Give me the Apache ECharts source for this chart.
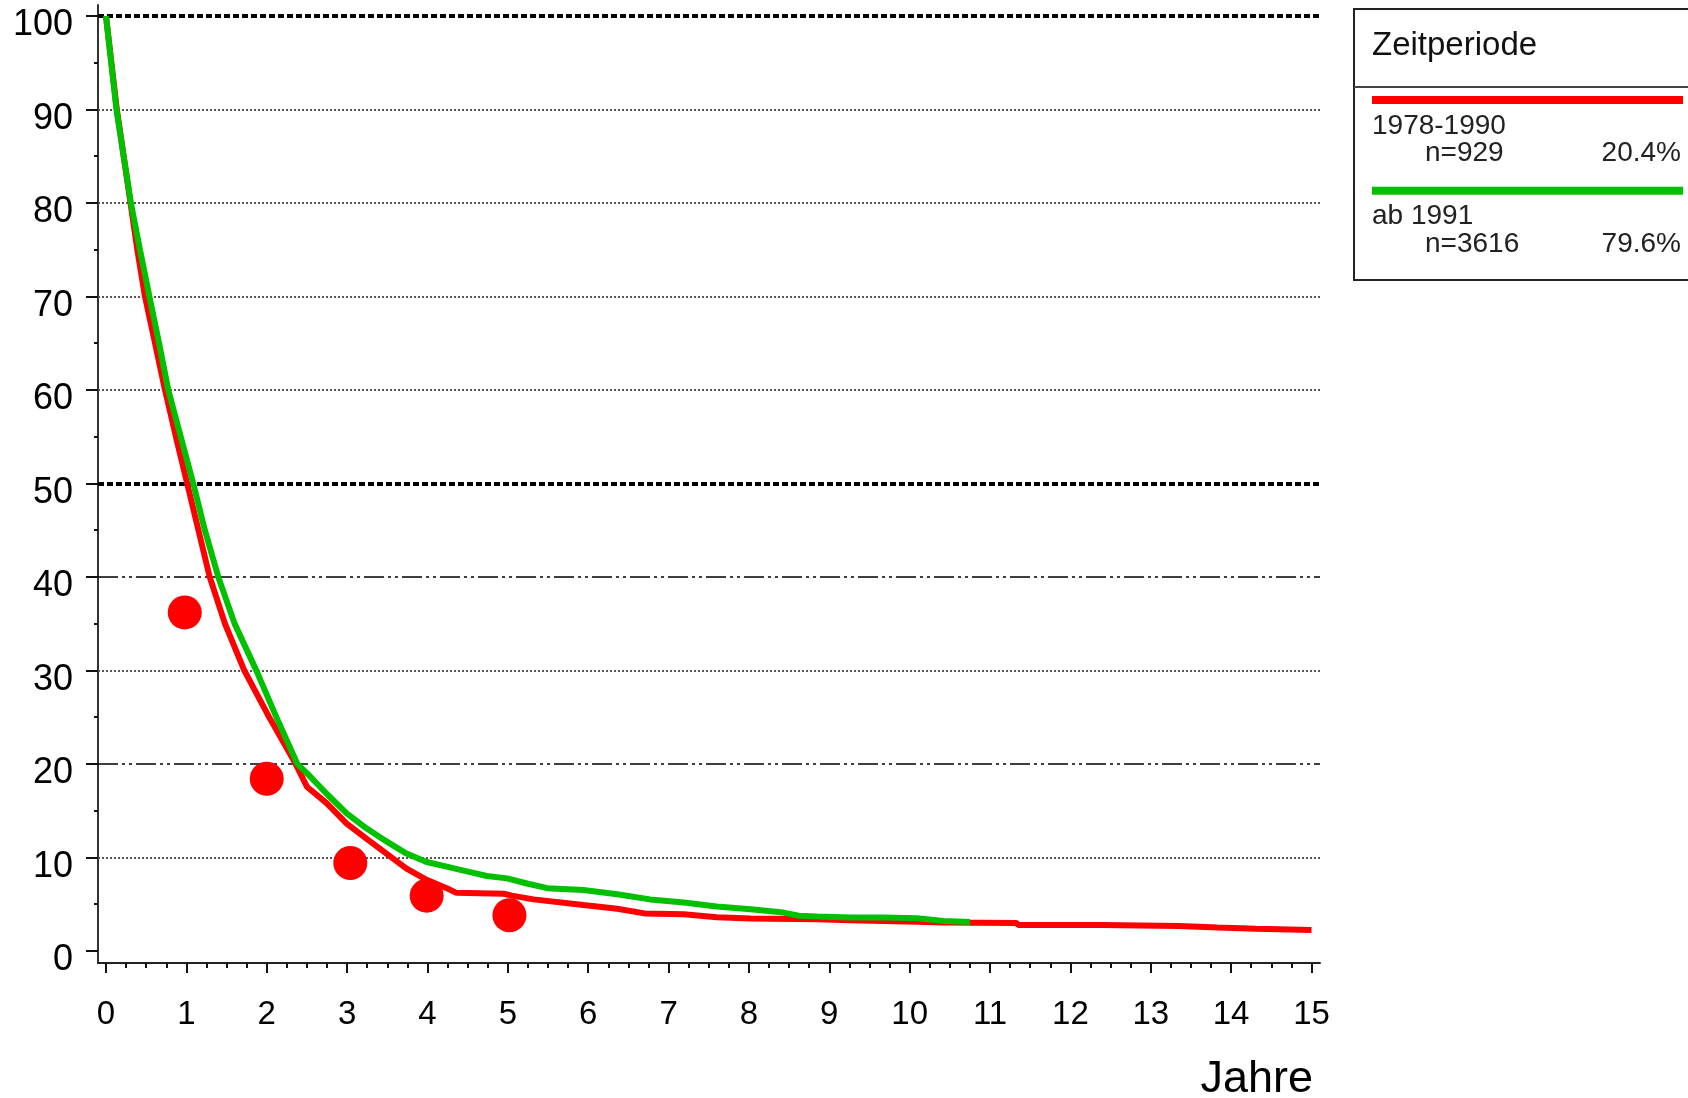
<!DOCTYPE html>
<html><head><meta charset="utf-8">
<script src="https://cdn.jsdelivr.net/npm/echarts@6/dist/echarts.min.js"></script>
<style>html,body{margin:0;padding:0;background:#fff}#c{width:1688px;height:1098px}</style>
</head><body><div id="c"></div>
<script>
// ---- data ----
const xTicks = [0,1,2,3,4,5,6,7,8,9,10,11,12,13,14,15];
const yTicks = [0,10,20,30,40,50,60,70,80,90,100];
const yMinorTicks = [5,15,25,35,45,55,65,75,85,95];
const gridThickDotted = [50,100];
const gridDashDot = [20,40];
const gridFineDotted = [10,30,60,70,80,90];

// 1978-1990 (red)
const redCurve = [[0,100],[0.135,90],[0.305,80],[0.39,75],[0.485,70],[0.61,65],[0.734,60],[0.87,55],[1.01,50],[1.15,45],[1.29,40],[1.48,35],[1.72,30],[2.03,25],[2.36,20],[2.5,17.55],[2.745,15.8],[2.995,13.6],[3.24,12.0],[3.49,10.4],[3.74,8.8],[3.99,7.6],[4.24,6.7],[4.36,6.2],[4.95,6.1],[5.05,5.9],[5.32,5.5],[5.94,4.9],[6.36,4.5],[6.7,4.0],[7.19,3.9],[7.6,3.6],[8.02,3.45],[8.85,3.37],[9.26,3.27],[9.67,3.2],[10.09,3.1],[10.42,3.03],[11.33,2.98],[11.35,2.76],[12.4,2.76],[12.42,2.66],[13.35,2.66],[13.37,2.48],[13.83,2.48],[13.85,2.37],[14.31,2.37],[14.33,2.23],[15.0,2.23]];
// ab 1991 (green)
const greenCurve = [[0,100],[0.13,90],[0.31,80],[0.423,75],[0.54,70],[0.66,65],[0.775,60],[0.93,55],[1.086,50],[1.23,45],[1.397,40],[1.60,35],[1.87,30],[2.12,25],[2.38,20],[2.5,19.0],[2.745,16.8],[2.995,14.7],[3.24,13.1],[3.49,11.7],[3.74,10.4],[3.99,9.5],[4.24,9.0],[4.49,8.5],[4.74,8.0],[4.99,7.75],[5.24,7.2],[5.49,6.7],[5.94,6.5],[6.36,6.05],[6.77,5.5],[7.19,5.16],[7.6,4.73],[8.02,4.44],[8.43,4.09],[8.62,3.75],[8.85,3.66],[9.26,3.55],[9.67,3.55],[10.09,3.48],[10.42,3.2],[10.75,3.09]];
// red dots
const dotPoints = [[0.98,36.2],[2.0,18.4],[3.04,9.4],[3.99,5.9],[5.02,3.8]];

const legendTitle = 'Zeitperiode';
const groupNames = ['1978-1990','ab 1991'];
const groupN = ['n=929','n=3616'];
const groupPct = ['20.4%','79.6%'];
const axisName = 'Jahre';

// ---- style ----
const RED = '#ff0000', GREEN = '#00c000';
const FONT = 'Liberation Sans';

const xMinorTicks = [];
for (let i = 0; i < xTicks.length - 1; i++) {
  const a = xTicks[i], b = xTicks[i+1];
  for (let k = 1; k < 4; k++) xMinorTicks.push(a + (b - a) * k / 4);
}

// plot geometry (axis lines sit slightly outside the data range)
const X_MIN = -0.0995, X_MAX = 15.106, Y_MIN = -1.305, Y_MAX = 101.18;

const gridLines = [];
gridThickDotted.forEach(v => gridLines.push({yAxis: v, lineStyle: {color:'#000', width:4, type:[6,3]}}));
gridDashDot.forEach(v => gridLines.push({yAxis: v, lineStyle: {color:'#000', width:1.5, type:[20,4,3,4,3,4]}}));
gridFineDotted.forEach(v => gridLines.push({yAxis: v, lineStyle: {color:'#555', width:2, type:[2,2]}}));

const legendGraphics = [
  {type:'rect', shape:{x:1354, y:9, width:400, height:271}, style:{fill:'#fff', stroke:'#222', lineWidth:2}},
  {type:'line', shape:{x1:1354, y1:87, x2:1688, y2:87}, style:{stroke:'#444', lineWidth:2}},
  {type:'text', style:{text:legendTitle, x:1372, y:45.5, verticalAlign:'middle', font:'33px "Liberation Sans"', fill:'#111'}}
];
const legendColors = [RED, GREEN];
const rowTop = [100, 190.7];
for (let i = 0; i < groupNames.length; i++) {
  const y0 = rowTop[i];
  legendGraphics.push({type:'line', shape:{x1:1372, y1:y0, x2:1683, y2:y0}, style:{stroke:legendColors[i], lineWidth:8}});
  legendGraphics.push({type:'text', style:{text:groupNames[i], x:1372, y:y0+26, verticalAlign:'middle', font:'28px "Liberation Sans"', fill:'#222'}});
  legendGraphics.push({type:'text', style:{text:groupN[i], x:1425, y:y0+53.5, verticalAlign:'middle', font:'28px "Liberation Sans"', fill:'#222'}});
  legendGraphics.push({type:'text', style:{text:groupPct[i], x:1681, y:y0+53.5, align:'right', verticalAlign:'middle', font:'28px "Liberation Sans"', fill:'#222'}});
}

const chart = echarts.init(document.getElementById('c'), null, {renderer:'canvas'});
chart.setOption({
  animation: false,
  backgroundColor: '#fff',
  title: {text: axisName, right: 375, top: 1057, padding: 0,
    textStyle: {fontSize: 45, lineHeight: 46, fontWeight: 'normal', fontFamily: FONT, color: '#000'}},
  grid: {left: 98, right: 368, top: 5, bottom: 135},
  xAxis: [
    {type:'value', min:X_MIN, max:X_MAX, position:'bottom',
     axisLine:{show:true, onZero:false, lineStyle:{color:'#222', width:2}},
     axisTick:{show:true, customValues:xTicks, length:10, lineStyle:{color:'#111', width:2}},
     axisLabel:{show:true, customValues:xTicks, fontSize:33, lineHeight:34, fontFamily:FONT, color:'#000', margin:35},
     splitLine:{show:false}},
    {type:'value', min:X_MIN, max:X_MAX, position:'bottom', offset:0,
     axisLine:{show:false, onZero:false},
     axisTick:{show:true, customValues:xMinorTicks, length:5, lineStyle:{color:'#111', width:2}},
     axisLabel:{show:false}, splitLine:{show:false}}
  ],
  yAxis: [
    {type:'value', min:Y_MIN, max:Y_MAX, position:'left',
     axisLine:{show:true, onZero:false, lineStyle:{color:'#333', width:2}},
     axisTick:{show:true, customValues:yTicks, length:12, lineStyle:{color:'#111', width:2}},
     axisLabel:{show:true, customValues:yTicks, fontSize:36, lineHeight:19, verticalAlign:'top', fontFamily:FONT, color:'#000', margin:25},
     splitLine:{show:false}},
    {type:'value', min:Y_MIN, max:Y_MAX, position:'left', offset:0,
     axisLine:{show:false, onZero:false},
     axisTick:{show:true, customValues:yMinorTicks, length:4, lineStyle:{color:'#111', width:2}},
     axisLabel:{show:false}, splitLine:{show:false}}
  ],
  series: [
    {name:groupNames[0], type:'line', data:redCurve, xAxisIndex:0, yAxisIndex:0,
     showSymbol:false, symbol:'none', lineStyle:{color:RED, width:6}, z:3,
     markLine:{silent:true, symbol:'none', label:{show:false}, data:gridLines, z:1}},
    {name:groupNames[1], type:'line', data:greenCurve, xAxisIndex:0, yAxisIndex:0,
     showSymbol:false, symbol:'none', lineStyle:{color:GREEN, width:6}, z:4},
    {name:'Punkte', type:'scatter', data:dotPoints, xAxisIndex:0, yAxisIndex:0,
     symbol:'circle', symbolSize:34, itemStyle:{color:RED, opacity:1}, z:5}
  ],
  graphic: legendGraphics
});
</script></body></html>
